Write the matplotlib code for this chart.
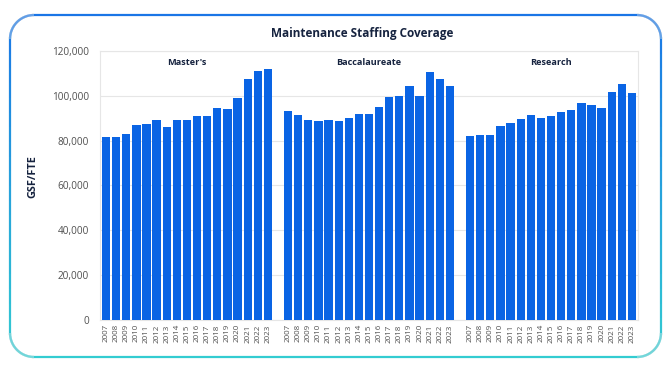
import matplotlib.pyplot as plt
import numpy as np
from matplotlib.collections import LineCollection
from matplotlib.ticker import FuncFormatter

plt.rcParams['font.family'] = ['Open Sans', 'DejaVu Sans']

years = [str(y) for y in range(2007, 2024)]
groups = ["Master's", "Baccalaureate", "Research"]
masters = [81500, 81600, 83000, 86900, 87400, 89100, 86300, 89100, 89400,
           91200, 91200, 94600, 94000, 99000, 107600, 111100, 112100]
bacc = [93300, 91300, 89400, 88600, 89100, 88800, 90000, 91800, 92100,
        95100, 99400, 100000, 104300, 100000, 110800, 107400, 104200]
research = [82100, 82500, 82400, 86700, 87900, 89500, 91300, 90100, 91200,
            93000, 93600, 96700, 95700, 94600, 101800, 105100, 101200]
series = [masters, bacc, research]

BAR = '#0a64e4'
NAVY = '#16233f'

fig = plt.figure(figsize=(6.68, 3.76), dpi=100)
ax = fig.add_axes([100 / 668, 56 / 376, 538 / 668, 269 / 376])

# one slot gap between the three groups
ticks, labels = [], []
for g, vals in enumerate(series):
    pos = np.arange(len(vals)) + g * (len(years) + 1)
    ax.bar(pos, vals, width=0.82, color=BAR, zorder=3)
    ax.text(pos.mean(), 114800, groups[g], ha='center', va='center',
            fontsize=6.6, fontweight='bold', color=NAVY)
    ticks.extend(pos)
    labels.extend(years)

ax.set_xlim(-0.6, 3 * len(years) + 1.6)
ax.set_ylim(0, 120000)
ax.set_yticks(np.arange(0, 120001, 20000))
ax.yaxis.set_major_formatter(FuncFormatter(lambda v, p: f'{int(v):,}'))
ax.set_xticks(ticks)
ax.set_xticklabels(labels, rotation=90, fontsize=5.8, color='#505050')
ax.tick_params(axis='y', labelsize=7.2, colors='#505050', length=0, pad=8)
ax.tick_params(axis='x', length=0, pad=3)
ax.grid(axis='y', color='#e6e6e6', linewidth=0.8, zorder=0)
for s in ax.spines.values():
    s.set_color('#e6e6e6')
    s.set_linewidth(0.8)
ax.set_ylabel('GSF/FTE', fontsize=7.8, fontweight='bold', color=NAVY)
ax.yaxis.set_label_coords(-62 / 538, (320 - 177) / 269)

fig.text(362 / 668, 1 - 34 / 376, 'Maintenance Staffing Coverage', ha='center',
         va='center', fontsize=8.5, fontweight='bold', color=NAVY)

# rounded frame, border fades from blue at the top to teal at the bottom
x0, x1, y0, y1, r = 10, 661, 376 - 357, 376 - 15, 24
pts = []
for cx, cy, a0 in [(x1 - r, y1 - r, 0), (x0 + r, y1 - r, 90),
                   (x0 + r, y0 + r, 180), (x1 - r, y0 + r, 270)]:
    for a in np.linspace(a0, a0 + 90, 30):
        pts.append((cx + r * np.cos(np.radians(a)), cy + r * np.sin(np.radians(a))))
pts.append(pts[0])
pts = np.array(pts)
dense = []
for i in range(len(pts) - 1):
    for t in np.linspace(0, 1, 20, endpoint=False):
        dense.append(pts[i] + t * (pts[i + 1] - pts[i]))
dense.append(pts[-1])
dense = np.array(dense)
segs = np.stack([dense[:-1], dense[1:]], axis=1)
mid = segs.mean(axis=1)
t = (1 - (mid[:, 1] - y0) / (y1 - y0)).clip(0, 1)
c0 = np.array([0.10, 0.46, 0.90])
c1 = np.array([0.20, 0.80, 0.82])
cols = c0 + (c1 - c0) * t[:, None]
segs[:, :, 0] /= 668
segs[:, :, 1] /= 376
lc = LineCollection(segs, colors=cols, linewidths=1.6, transform=fig.transFigure)
fig.add_artist(lc)

fig.savefig('out.png', dpi=100, facecolor='white')
